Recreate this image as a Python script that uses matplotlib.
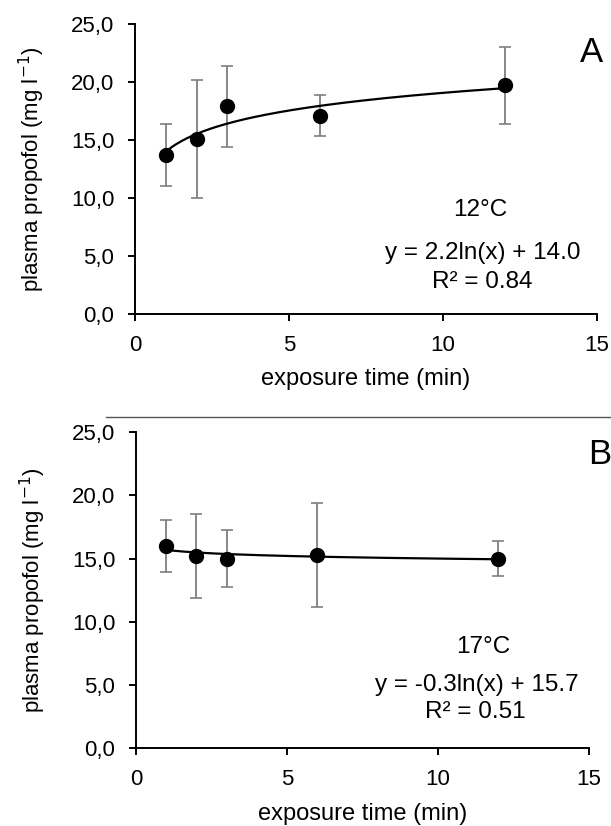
import numpy as np
import matplotlib
matplotlib.use("Agg")
import matplotlib.pyplot as plt
from matplotlib.ticker import FuncFormatter

plt.rcParams['font.family'] = ['Liberation Sans', 'DejaVu Sans']

# exposure times (min)
time_a = [1, 2, 3, 6, 12]
time_b = [1, 2, 3, 6, 12]

# panel A, 12 C
mean_a = [13.7, 15.1, 17.9, 17.1, 19.7]
err_a = [2.7, 5.1, 3.5, 1.75, 3.3]

# panel B, 17 C
mean_b = [16.0, 15.2, 15.0, 15.3, 15.0]
err_b = [2.05, 3.3, 2.25, 4.1, 1.4]

# log trendlines y = a*ln(x) + b
fit_a = (2.2, 14.0)
fit_b = (-0.3, 15.7)

W, H = 611, 826
comma_fmt = FuncFormatter(lambda v, p: "{:.1f}".format(v).replace(".", ","))

fig = plt.figure(figsize=(W / 100, H / 100), dpi=100)
ax1 = fig.add_axes([135 / W, 1 - 314 / H, 462 / W, 290 / H])
ax2 = fig.add_axes([136 / W, 1 - 748.3 / H, 453 / W, 316 / H])


def px(x, y):
    # pixel position -> figure fraction
    return x / W, 1 - y / H


def draw_panel(ax, t, m, e, fit):
    ax.errorbar(t, m, yerr=e, fmt='none', ecolor='#7f7f7f', elinewidth=1.3,
                capsize=4, capthick=1.2, zorder=2)
    xx = np.linspace(min(t), max(t), 200)
    ax.plot(xx, fit[0] * np.log(xx) + fit[1], color='black', lw=1.6, zorder=3)
    ax.plot(t, m, 'o', color='black', markersize=10, zorder=4)
    ax.set_xlim(0, 15)
    ax.set_ylim(0, 25)
    ax.set_xticks([0, 5, 10, 15])
    ax.set_yticks([0, 5, 10, 15, 20, 25])
    ax.yaxis.set_major_formatter(comma_fmt)
    ax.spines['top'].set_visible(False)
    ax.spines['right'].set_visible(False)
    ax.spines['left'].set_linewidth(1.4)
    ax.spines['bottom'].set_linewidth(1.4)
    ax.tick_params(direction='out', length=5, width=1.4, labelsize=16, pad=10)
    ax.set_xlabel("exposure time (min)", fontsize=17, labelpad=9)
    ax.set_ylabel("plasma propofol (mg l$^{-1}$)", fontsize=16, labelpad=17)


draw_panel(ax1, time_a, mean_a, err_a, fit_a)
draw_panel(ax2, time_b, mean_b, err_b, fit_b)

# annotations
fig.text(*px(592, 53), "A", fontsize=25, ha='center', va='center')
fig.text(*px(480, 210), "12°C", fontsize=17.5, ha='center', va='center')
fig.text(*px(483, 253), "y = 2.2ln(x) + 14.0", fontsize=17.5, ha='center', va='center')
fig.text(*px(482, 282), "R² = 0.84", fontsize=17.5, ha='center', va='center')

fig.text(*px(600, 455), "B", fontsize=25, ha='center', va='center')
fig.text(*px(483, 647), "17°C", fontsize=17.5, ha='center', va='center')
fig.text(*px(477, 685), "y = -0.3ln(x) + 15.7", fontsize=17.5, ha='center', va='center')
fig.text(*px(475, 712), "R² = 0.51", fontsize=17.5, ha='center', va='center')

# separator line between panels
fig.add_artist(plt.Line2D([106 / W, 1.0], [1 - 417 / H, 1 - 417 / H],
                          color='#555555', lw=1.0, transform=fig.transFigure))

fig.savefig("out.png", dpi=100)
